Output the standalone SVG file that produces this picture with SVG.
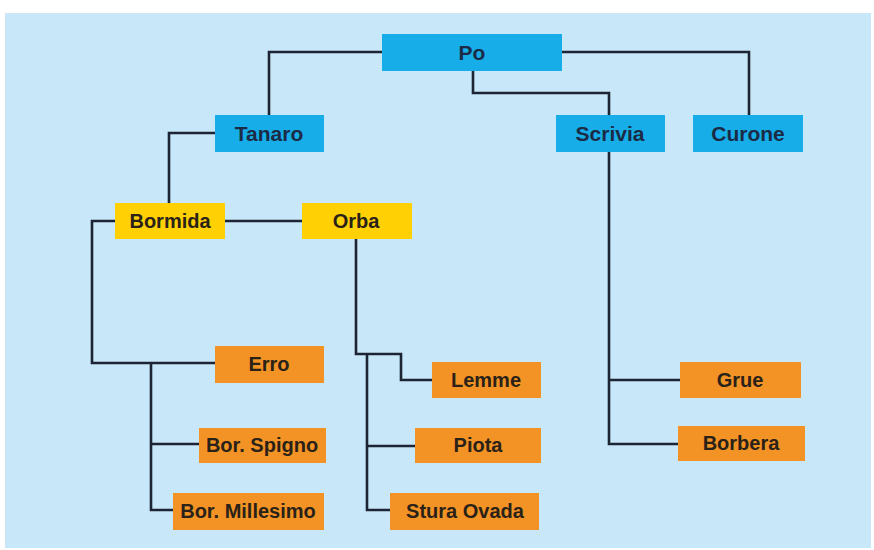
<svg xmlns="http://www.w3.org/2000/svg" width="874" height="550" viewBox="0 0 874 550">
<style>
.blue{fill:#17ade8}
.yel{fill:#ffd105}
.ora{fill:#f39325}
text{font-family:"Liberation Sans",Arial,sans-serif;font-weight:bold;font-size:20px;text-anchor:middle;dominant-baseline:central}
.tb{fill:#1b2b45;font-size:21px}
.tt{fill:#2a2218}
#connectors path{fill:none;stroke:#1d2535;stroke-width:2.6}
</style>
<rect x="0" y="0" width="874" height="550" fill="#ffffff"/>
<rect x="5" y="13" width="866" height="535" fill="#c8e7f8"/>
<g id="connectors">
<path d="M382,52 H269 V115"/>
<path d="M562,52 H749 V115"/>
<path d="M473,71 V93 H609 V115"/>
<path d="M215,133 H169 V203"/>
<path d="M224,221 H302"/>
<path d="M115,221 H92 V363 H215"/>
<path d="M151,363 V510 H173"/>
<path d="M151,444 H199"/>
<path d="M356,239 V354 H401 V380 H432"/>
<path d="M367,354 V510 H390"/>
<path d="M367,446 H415"/>
<path d="M609,151 V444 H678"/>
<path d="M609,380 H680"/>
</g>
<g id="po"><rect class="blue" x="382" y="34" width="180" height="37"/><text class="tb" x="472" y="52">Po</text></g>
<g id="tanaro"><rect class="blue" x="215" y="115" width="109" height="37"/><text class="tb" x="269" y="133">Tanaro</text></g>
<g id="scrivia"><rect class="blue" x="556" y="115" width="109" height="37"/><text class="tb" x="610" y="133">Scrivia</text></g>
<g id="curone"><rect class="blue" x="693" y="115" width="110" height="37"/><text class="tb" x="748" y="133">Curone</text></g>
<g id="bormida"><rect class="yel" x="115" y="203" width="110" height="36"/><text class="tt" x="170" y="221">Bormida</text></g>
<g id="orba"><rect class="yel" x="302" y="203" width="110" height="36"/><text class="tt" x="356" y="221">Orba</text></g>
<g id="erro"><rect class="ora" x="215" y="346" width="109" height="37"/><text class="tt" x="269" y="364">Erro</text></g>
<g id="lemme"><rect class="ora" x="432" y="362" width="109" height="36"/><text class="tt" x="486" y="380">Lemme</text></g>
<g id="bor-spigno"><rect class="ora" x="199" y="428" width="127" height="35"/><text class="tt" x="262" y="445">Bor. Spigno</text></g>
<g id="piota"><rect class="ora" x="415" y="428" width="126" height="35"/><text class="tt" x="478" y="445">Piota</text></g>
<g id="bor-millesimo"><rect class="ora" x="173" y="493" width="151" height="37"/><text class="tt" x="248" y="511">Bor. Millesimo</text></g>
<g id="stura-ovada"><rect class="ora" x="390" y="493" width="149" height="37"/><text class="tt" x="465" y="511">Stura Ovada</text></g>
<g id="grue"><rect class="ora" x="680" y="362" width="121" height="36"/><text class="tt" x="740" y="380">Grue</text></g>
<g id="borbera"><rect class="ora" x="678" y="426" width="127" height="35"/><text class="tt" x="741" y="443">Borbera</text></g>
</svg>
